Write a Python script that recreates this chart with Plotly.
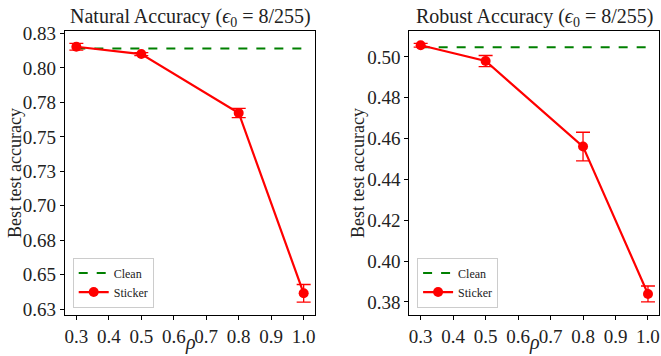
import plotly.graph_objects as go

rho = [0.3, 0.5, 0.8, 1.0]

nat_sticker = [0.8153, 0.8100, 0.7673, 0.6366]
nat_err = [0.0024, 0.0011, 0.0033, 0.0064]
nat_clean = 0.8141

rob_sticker = [0.5057, 0.4980, 0.4561, 0.3839]
rob_err = [0.0009, 0.0027, 0.0070, 0.0039]
rob_clean = 0.5047

nat_ticks = [0.625, 0.650, 0.675, 0.700, 0.725, 0.750, 0.775, 0.800, 0.825]
nat_labels = ["0.63", "0.65", "0.68", "0.70", "0.73", "0.75", "0.78", "0.80", "0.83"]
rob_ticks = [0.38, 0.40, 0.42, 0.44, 0.46, 0.48, 0.50]
rob_labels = ["0.38", "0.40", "0.42", "0.44", "0.46", "0.48", "0.50"]
x_ticks = [0.3, 0.4, 0.5, 0.6, 0.7, 0.8, 0.9, 1.0]
x_labels = ["0.3", "0.4", "0.5", "0.6", "0.7", "0.8", "0.9", "1.0"]

FONT = "Liberation Serif"
RED = "#ff0000"
GREEN = "#008000"

fig = go.Figure()

def add_panel(xa, ya, sticker, err, clean, leg):
    fig.add_trace(go.Scatter(
        x=[rho[0], rho[-1]], y=[clean, clean], mode="lines",
        line=dict(color=GREEN, width=2, dash="dash"),
        name="Clean", legend=leg, xaxis=xa, yaxis=ya))
    fig.add_trace(go.Scatter(
        x=rho, y=sticker, mode="lines+markers",
        line=dict(color=RED, width=2.2),
        marker=dict(color=RED, size=10),
        error_y=dict(type="data", array=err, visible=True,
                     color=RED, thickness=1.3, width=7),
        name="Sticker", legend=leg, xaxis=xa, yaxis=ya))

add_panel("x", "y", nat_sticker, nat_err, nat_clean, "legend")
add_panel("x2", "y2", rob_sticker, rob_err, rob_clean, "legend2")

axis_common = dict(
    showgrid=False, zeroline=False, showline=True, linecolor="black",
    linewidth=1.2, mirror=True, ticks="outside", ticklen=4, tickwidth=1,
    tickcolor="black", automargin=False,
    tickfont=dict(family=FONT, size=19, color="#222"),
)

XD1 = [0.0983, 0.4766]
XD2 = [0.6192, 0.9975]
YD = [0.1152, 0.9129]

leg_common = dict(xanchor="left", yanchor="bottom",
                  bgcolor="rgba(255,255,255,0.8)", bordercolor="#cccccc", borderwidth=1,
                  font=dict(family=FONT, size=12, color="#222"),
                  tracegroupgap=0, itemwidth=30)

fig.update_layout(
    width=661, height=356,
    margin=dict(l=0, r=0, t=0, b=0),
    paper_bgcolor="white", plot_bgcolor="white",
    font=dict(family=FONT, color="#222"),
    xaxis=dict(domain=XD1, range=[0.265, 1.035],
               tickvals=x_ticks, ticktext=x_labels, anchor="y", **axis_common),
    yaxis=dict(domain=YD, range=[0.6209, 0.8267],
               tickvals=nat_ticks, ticktext=nat_labels, anchor="x", **axis_common),
    xaxis2=dict(domain=XD2, range=[0.265, 1.035],
                tickvals=x_ticks, ticktext=x_labels, anchor="y2", **axis_common),
    yaxis2=dict(domain=YD, range=[0.3736, 0.5127],
                tickvals=rob_ticks, ticktext=rob_labels, anchor="x2", **axis_common),
    legend=dict(x=0.110, y=0.136, **leg_common),
    legend2=dict(x=0.631, y=0.136, **leg_common),
    showlegend=True,
)

W, H = 661, 356
ymid = (YD[0] + YD[1]) / 2
for xd, txt, ylab_x in [(XD1, "Natural Accuracy (<i>ϵ</i><sub>0</sub> = 8/255)", 15),
                        (XD2, "Robust Accuracy (<i>ϵ</i><sub>0</sub> = 8/255)", 358)]:
    xc = (xd[0] + xd[1]) / 2
    fig.add_annotation(text=txt, xref="paper", yref="paper",
                       x=xc, y=YD[1] - 0.004,
                       xanchor="center", yanchor="bottom", showarrow=False,
                       font=dict(family=FONT, size=20, color="#222"))
    fig.add_annotation(text="<i>ρ</i>", xref="paper", yref="paper",
                       x=xc, y=0.0, xanchor="center", yanchor="bottom",
                       showarrow=False, font=dict(family=FONT, size=20, color="#222"))
    fig.add_annotation(text="Best test accuracy", xref="paper", yref="paper",
                       x=ylab_x / W, y=ymid, xanchor="center", yanchor="middle",
                       textangle=-90, showarrow=False,
                       font=dict(family=FONT, size=18, color="#222"))

fig.write_html("out.html")
